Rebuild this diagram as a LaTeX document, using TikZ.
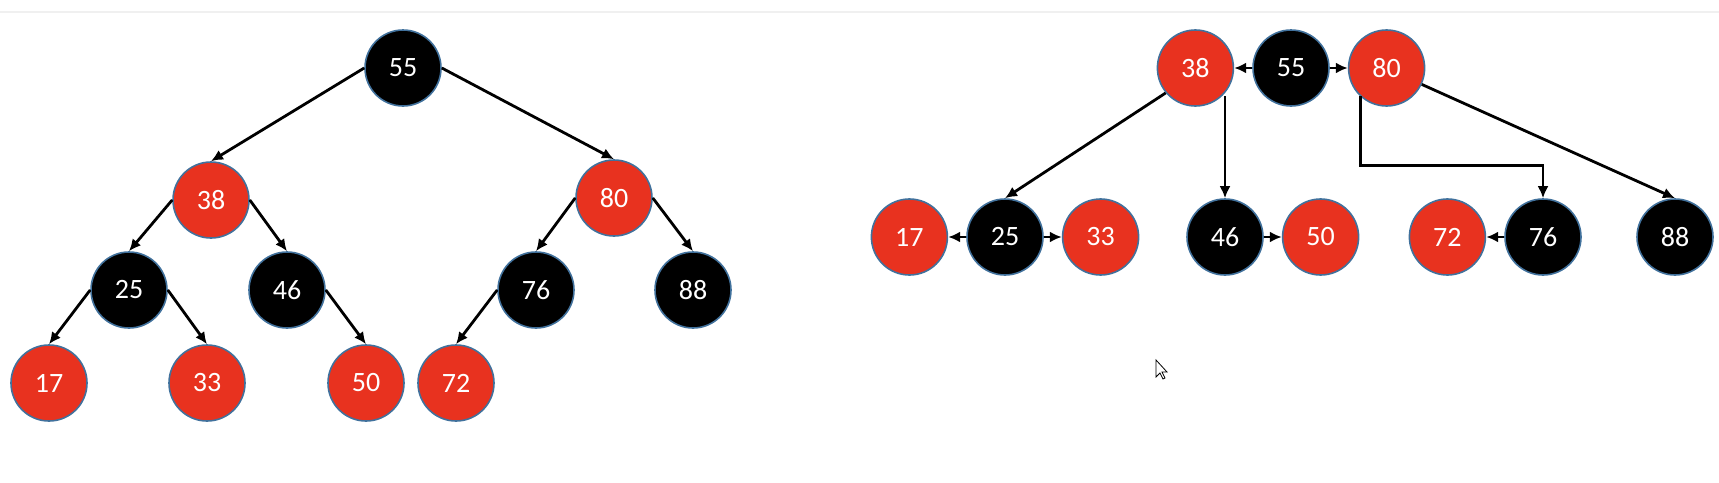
\documentclass[tikz,border=0pt]{standalone}
\usepackage{fontspec}
\setmainfont{Carlito}
\usepackage{tikz}
\usetikzlibrary{arrows.meta}
\usetikzlibrary{positioning}
\definecolor{rbred}{HTML}{E8321F}
\definecolor{rbedge}{HTML}{41719C}

\begin{document}
\begin{tikzpicture}[x=1pt,y=-1pt,node distance=18pt,>={Latex[length=12pt,width=11pt]},line width=2.8pt]
\tikzstyle{every node}=[font=\fontsize{28}{28}\selectfont,text=white]
\tikzstyle{rnode}=[circle,minimum size=76pt,inner sep=0pt,line width=1.6pt,draw=rbedge,fill=rbred]
\tikzstyle{bnode}=[circle,minimum size=76pt,inner sep=0pt,line width=1.6pt,draw=rbedge,fill=black]
\useasboundingbox (0,0) rectangle (1719,482);
\draw[line width=2pt,black!6] (0,12) -- (1719,12);

% tree
\node[bnode] (l55) at (403,68) {55};
\node[rnode] (l38) at (211,200) {38};
\node[rnode] (l80) at (614,198) {80};
\node[bnode] (l25) at (129,290) {25};
\node[bnode] (l46) at (287,290) {46};
\node[bnode] (l76) at (536,290) {76};
\node[bnode] (l88) at (693,290) {88};
\node[rnode] (l17) at (49,383) {17};
\node[rnode] (l33) at (207,383) {33};
\node[rnode] (l50) at (366,383) {50};
\node[rnode] (l72) at (456,383) {72};

\draw[->] (l55.west) -- (l38.north);
\draw[->] (l55.east) -- (l80.north);
\draw[->] (l38.west) -- (l25.north);
\draw[->] (l38.east) -- (l46.north);
\draw[->] (l80.west) -- (l76.north);
\draw[->] (l80.east) -- (l88.north);
\draw[->] (l25.west) -- (l17.north);
\draw[->] (l25.east) -- (l33.north);
\draw[->] (l46.east) -- (l50.north);
\draw[->] (l76.west) -- (l72.north);

% nodes in a row
\node[bnode] (r55) at (1291,68) {55};
\node[rnode,left =of r55] (r38) {38};
\node[rnode,right =of r55] (r80) {80};
\node[bnode] (r25) at (1005,237) {25};
\node[rnode,left =of r25] (r17) {17};
\node[rnode,right =of r25] (r33) {33};
\node[bnode] (r46) at (1225,237) {46};
\node[rnode,right =of r46] (r50) {50};
\node[bnode] (r76) at (1543,237) {76};
\node[rnode,left =of r76] (r72) {72};
\node[bnode] (r88) at (1675,237) {88};

\draw[->] (r55.west) -- (r38.east);
\draw[->] (r55.east) -- (r80.west);
\draw[->] (r25.west) -- (r17.east);
\draw[->] (r25.east) -- (r33.west);
\draw[->] (r46.east) -- (r50.west);
\draw[->] (r76.west) -- (r72.east);

\draw[->] (r38.-140) -- (r25.north);
\draw[->] (r46.north |- r38.-47) -- (r46.north);
\draw[->] (r80.-133) |- ([yshift=33pt]r76.north) -- (r76.north);
\draw[->] (r80.-25) -- (r88.north);

% cursor
\draw[line width=0.8pt,fill=white] (1156,360) -- (1156,377) -- (1160,373) -- (1163,379)
  -- (1165,378) -- (1162,372) -- (1167,372) -- cycle;
\end{tikzpicture}
\end{document}
